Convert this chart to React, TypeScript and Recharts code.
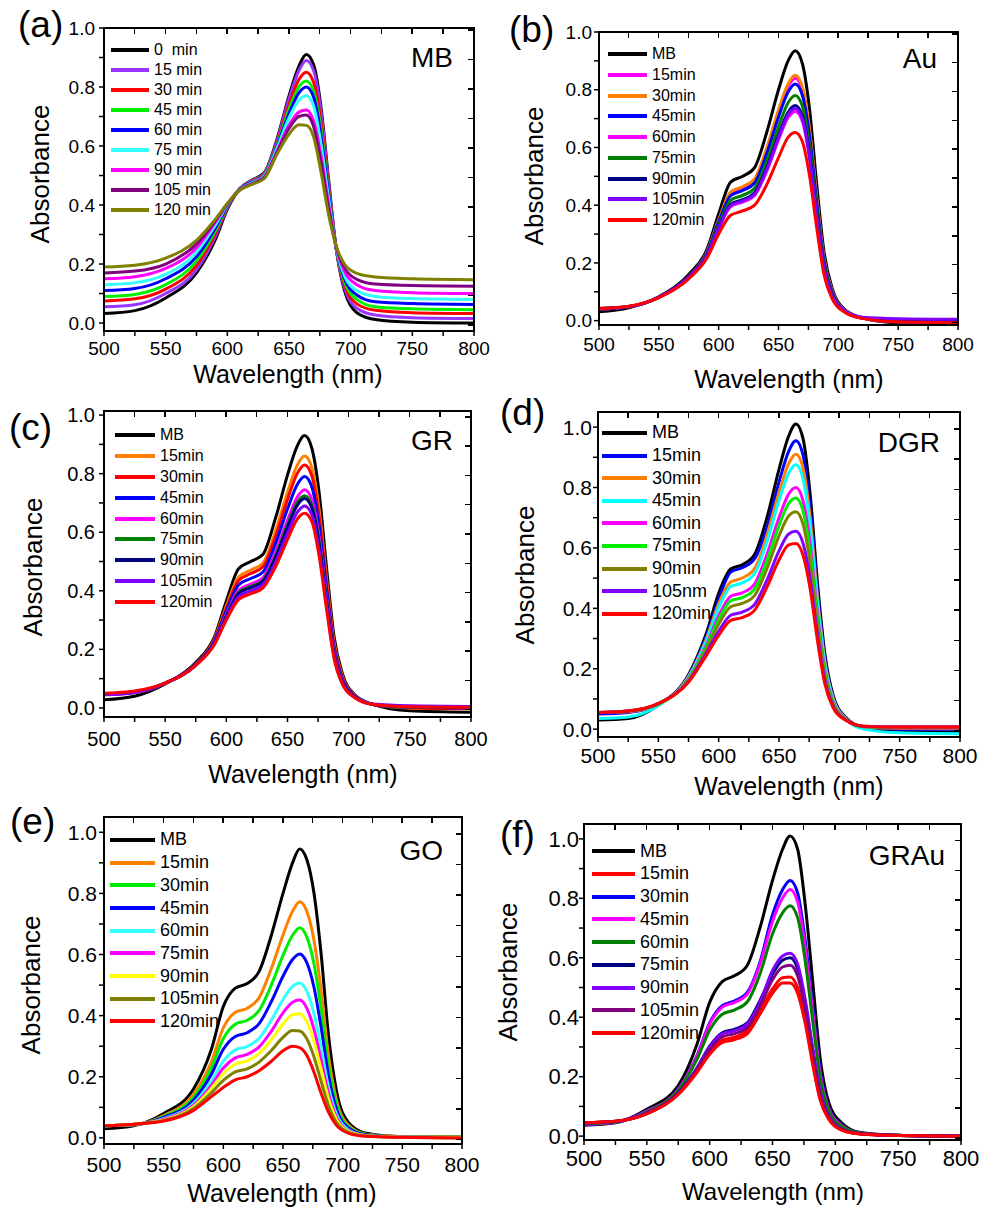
import React from "react";
import { LineChart, Line, XAxis, YAxis, Legend, ReferenceArea } from "recharts";

const FONT = '"Liberation Sans", Arial, Helvetica, sans-serif';

// sampled wavelengths (nm) shared by every spectrum
const wavelengths = [500, 525, 550, 575, 590, 600, 610, 620, 630, 640, 650, 658, 664, 670, 676, 682, 688, 695, 705, 720, 750, 800];
const xTicks = [500, 525, 550, 575, 600, 625, 650, 675, 700, 725, 750, 775, 800];
const yTicks = [0, 0.1, 0.2, 0.3, 0.4, 0.5, 0.6, 0.7, 0.8, 0.9, 1.0];

// (a) MB
const aLabels = ["0  min", "15 min", "30 min", "45 min", "60 min", "75 min", "90 min", "105 min", "120 min"];
const aColors = ["#000000", "#9933ff", "#ff0000", "#00ee00", "#0000ff", "#33ffff", "#ff00ff", "#800080", "#808000"];
const aCurves = [
  [.032, .042, .085, .17, .28, .385, .455, .485, .51, .62, .77, .87, .91, .875, .73, .49, .26, .11, .035, .012, .003, .0],
  [.055, .062, .10, .18, .29, .39, .455, .483, .508, .615, .76, .855, .89, .855, .715, .48, .26, .12, .05, .027, .018, .015],
  [.075, .082, .115, .195, .30, .392, .455, .48, .505, .605, .74, .825, .85, .815, .68, .465, .26, .13, .065, .043, .035, .032],
  [.09, .097, .13, .21, .31, .395, .455, .478, .503, .60, .725, .80, .82, .785, .655, .45, .26, .14, .08, .055, .048, .045],
  [.11, .117, .15, .225, .32, .397, .454, .477, .50, .595, .71, .78, .80, .765, .635, .44, .262, .15, .095, .072, .066, .063],
  [.13, .137, .165, .24, .33, .40, .453, .475, .498, .59, .695, .755, .77, .735, .605, .425, .262, .16, .11, .09, .083, .08],
  [.15, .157, .185, .255, .34, .402, .452, .473, .495, .58, .67, .715, .722, .685, .565, .405, .263, .175, .13, .11, .103, .10],
  [.17, .176, .20, .268, .345, .404, .451, .472, .493, .575, .66, .70, .705, .665, .545, .39, .264, .187, .148, .132, .127, .125],
  [.19, .196, .22, .28, .35, .405, .45, .47, .49, .57, .64, .672, .67, .63, .51, .37, .265, .20, .168, .156, .15, .147],
];

// (b) Au
const bLabels = ["MB", "15min", "30min", "45min", "60min", "75min", "90min", "105min", "120min"];
const bColors = ["#000000", "#ff00ff", "#ff8000", "#0000ff", "#ff00ff", "#008000", "#000080", "#8000ff", "#ff0000"];
const bCurves = [
  [.031, .045, .083, .16, .245, .37, .48, .50, .53, .65, .80, .90, .935, .89, .73, .47, .24, .11, .04, .01, -.008, -.012],
  [.04, .048, .082, .152, .235, .346, .441, .46, .486, .59, .721, .811, .84, .799, .653, .42, .213, .098, .037, .009, -.004, -.006],
  [.04, .048, .082, .152, .236, .349, .446, .464, .491, .596, .73, .82, .85, .809, .661, .425, .216, .10, .037, .009, -.004, -.006],
  [.04, .048, .082, .152, .233, .342, .433, .451, .477, .577, .705, .792, .82, .78, .637, .409, .208, .096, .036, .009, -.003, -.005],
  [.042, .049, .081, .15, .223, .318, .395, .411, .434, .516, .626, .703, .725, .69, .559, .359, .181, .084, .033, .009, -.002, -.004],
  [.042, .049, .081, .15, .229, .332, .417, .434, .459, .551, .671, .755, .78, .742, .604, .388, .196, .091, .035, .009, -.002, -.004],
  [.042, .049, .081, .15, .225, .323, .403, .419, .443, .529, .642, .722, .745, .709, .576, .369, .186, .087, .033, .009, .0, -.002],
  [.042, .049, .081, .15, .224, .321, .399, .415, .438, .523, .634, .713, .735, .699, .567, .364, .183, .085, .035, .012, .007, .005],
  [.042, .05, .08, .145, .215, .30, .365, .38, .40, .47, .565, .635, .652, .62, .50, .32, .16, .075, .03, .008, -.004, -.007],
];

// (c) GR
const cLabels = ["MB", "15min", "30min", "45min", "60min", "75min", "90min", "105min", "120min"];
const cColors = ["#000000", "#ff8000", "#ff0000", "#0000ff", "#ff00ff", "#008000", "#000080", "#8000ff", "#ff0000"];
const cCurves = [
  [.028, .04, .082, .155, .24, .365, .475, .50, .525, .645, .795, .895, .93, .885, .73, .475, .245, .115, .045, .012, -.01, -.015],
  [.045, .052, .084, .15, .233, .348, .447, .471, .495, .601, .737, .829, .86, .819, .673, .438, .225, .106, .042, .012, .0, -.003],
  [.048, .054, .085, .149, .231, .34, .435, .459, .482, .583, .712, .801, .83, .791, .649, .422, .217, .102, .041, .012, .001, -.002],
  [.046, .053, .084, .148, .227, .331, .42, .442, .464, .558, .679, .763, .79, .753, .616, .401, .205, .097, .04, .012, .002, .0],
  [.048, .055, .085, .147, .223, .32, .402, .423, .445, .53, .641, .72, .745, .71, .58, .377, .193, .091, .038, .012, .003, .001],
  [.048, .055, .085, .147, .221, .315, .394, .415, .436, .517, .625, .702, .725, .692, .564, .367, .187, .088, .037, .012, .003, .002],
  [.048, .055, .085, .146, .22, .312, .39, .411, .432, .511, .617, .692, .715, .682, .556, .361, .184, .087, .037, .012, .004, .002],
  [.045, .053, .085, .146, .217, .306, .38, .40, .421, .495, .596, .668, .69, .658, .535, .348, .177, .083, .036, .013, .007, .005],
  [.05, .058, .085, .145, .215, .30, .37, .39, .41, .48, .575, .645, .665, .635, .515, .335, .17, .08, .035, .012, .004, .002],
];

// (d) DGR
const dLabels = ["MB", "15min", "30min", "45min", "60min", "75min", "90min", "105nm", "120min"];
const dColors = ["#000000", "#0000ff", "#ff8000", "#00ffff", "#ff00ff", "#00ee00", "#808000", "#8000ff", "#ff0000"];
const dCurves = [
  [.03, .035, .08, .18, .32, .45, .53, .545, .58, .70, .86, .97, 1.01, .96, .77, .48, .25, .11, .04, .005, -.008, -.01],
  [.05, .055, .082, .177, .31, .43, .52, .535, .565, .668, .818, .92, .955, .906, .727, .454, .236, .104, .039, .006, .0, .0],
  [.055, .058, .083, .174, .301, .415, .487, .501, .533, .642, .784, .879, .91, .863, .692, .432, .225, .10, .037, .006, .003, .003],
  [.035, .04, .078, .171, .294, .402, .472, .485, .517, .621, .757, .847, .875, .828, .664, .415, .216, .096, .035, .0, -.012, -.015],
  [.055, .06, .083, .167, .28, .375, .44, .452, .482, .578, .70, .778, .80, .755, .605, .379, .197, .089, .035, .008, .005, .005],
  [.055, .06, .083, .165, .274, .363, .425, .436, .465, .557, .674, .747, .765, .721, .578, .362, .188, .085, .034, .008, .006, .006],
  [.055, .06, .084, .162, .265, .347, .405, .417, .444, .531, .64, .706, .72, .677, .542, .341, .177, .081, .033, .009, .006, .006],
  [.055, .06, .085, .158, .253, .324, .377, .388, .414, .493, .59, .646, .655, .614, .491, .309, .16, .074, .031, .01, .008, .008],
  [.055, .06, .085, .155, .245, .31, .36, .37, .395, .47, .56, .61, .615, .575, .46, .29, .15, .07, .03, .01, .007, .007],
];

// (e) GO
const eLabels = ["MB", "15min", "30min", "45min", "60min", "75min", "90min", "105min", "120min"];
const eColors = ["#000000", "#ff8000", "#00ee00", "#0000ff", "#33ffff", "#ff00ff", "#ffff00", "#808000", "#ff0000"];
const eCurves = [
  [.03, .04, .08, .16, .29, .43, .49, .505, .545, .66, .80, .90, .945, .91, .80, .60, .34, .15, .05, .015, .004, .003],
  [.04, .042, .073, .142, .249, .36, .411, .424, .459, .552, .664, .742, .773, .741, .646, .48, .273, .121, .041, .012, .004, .002],
  [.04, .043, .07, .132, .229, .325, .372, .385, .417, .498, .597, .663, .688, .657, .569, .42, .239, .107, .036, .011, .003, .002],
  [.04, .043, .067, .123, .208, .29, .332, .344, .374, .444, .529, .584, .602, .573, .492, .36, .206, .092, .032, .01, .003, .001],
  [.04, .044, .063, .113, .186, .251, .288, .299, .326, .384, .453, .496, .507, .479, .406, .293, .168, .076, .026, .008, .003, .001],
  [.04, .044, .061, .107, .172, .229, .262, .273, .298, .348, .409, .444, .451, .424, .355, .254, .146, .066, .023, .007, .002, .001],
  [.04, .045, .059, .102, .162, .21, .241, .252, .276, .32, .373, .403, .406, .379, .315, .223, .129, .059, .021, .007, .002, .001],
  [.04, .045, .057, .096, .148, .188, .216, .226, .248, .285, .329, .351, .35, .324, .265, .184, .107, .049, .018, .006, .002, .0],
  [.04, .045, .055, .09, .135, .165, .19, .20, .22, .25, .285, .30, .295, .27, .215, .145, .085, .04, .015, .005, .002, .0],
];

// (f) GRAu
const fLabels = ["MB", "15min", "30min", "45min", "60min", "75min", "90min", "105min", "120min"];
const fColors = ["#000000", "#ff0000", "#0000ff", "#ff00ff", "#008000", "#000080", "#8000ff", "#800080", "#ff0000"];
const fCurves = [
  [.037, .045, .09, .17, .31, .45, .52, .54, .575, .70, .86, .965, 1.01, .965, .78, .52, .26, .11, .045, .012, .003, .0],
  [.045, .05, .076, .141, .219, .282, .323, .333, .354, .422, .495, .533, .535, .499, .396, .251, .126, .057, .021, .007, .002, .0],
  [.04, .047, .084, .158, .272, .381, .439, .455, .484, .585, .745, .829, .86, .818, .659, .435, .218, .093, .037, .01, .003, .0],
  [.04, .047, .084, .157, .27, .377, .434, .45, .478, .578, .722, .801, .83, .788, .634, .418, .209, .09, .036, .01, .003, .0],
  [.042, .047, .082, .154, .259, .356, .41, .425, .452, .545, .68, .751, .775, .735, .59, .387, .194, .084, .033, .01, .003, .0],
  [.044, .049, .078, .145, .23, .303, .348, .36, .381, .456, .545, .592, .60, .563, .449, .288, .144, .064, .024, .008, .002, .0],
  [.044, .049, .078, .144, .228, .30, .344, .355, .377, .45, .557, .606, .615, .578, .461, .297, .148, .066, .025, .008, .002, .0],
  [.045, .05, .076, .143, .224, .291, .334, .345, .366, .437, .526, .569, .575, .539, .428, .274, .137, .062, .023, .008, .002, .0],
  [.045, .05, .075, .14, .215, .275, .315, .325, .345, .41, .48, .515, .515, .48, .38, .24, .12, .055, .02, .007, .002, .0],
];

const panels = [
  { tag: "(a)", name: "MB", labels: aLabels, colors: aColors, curves: aCurves,
    fl: 104, ft: 28, fr: 474, fb: 331, yDomain: [-0.027, 1.0], tickFs: 19, yMargin: 4, xMargin: 6,
    lx: 111, lw: 38, ly: 50, rowH: 20, legFs: 16,
    tagX: 18, tagY: 37, nameX: 453, nameY: 67, xtX: 288, xtY: 383, xtFs: 25, ytX: 40, ytY: 174 },
  { tag: "(b)", name: "Au", labels: bLabels, colors: bColors, curves: bCurves,
    fl: 599, ft: 32, fr: 958, fb: 325, yDomain: [-0.015, 1.0], tickFs: 19, yMargin: 2, xMargin: 8,
    lx: 608, lw: 39, ly: 54, rowH: 20.75, legFs: 16,
    tagX: 509, tagY: 42, nameX: 937, nameY: 68, xtX: 789, xtY: 388, xtFs: 25, ytX: 534, ytY: 176 },
  { tag: "(c)", name: "GR", labels: cLabels, colors: cColors, curves: cCurves,
    fl: 104, ft: 411, fr: 471, fb: 717, yDomain: [-0.031, 1.014], tickFs: 20, yMargin: 4, xMargin: 10,
    lx: 115, lw: 40, ly: 435, rowH: 20.9, legFs: 16,
    tagX: 9, tagY: 440, nameX: 453, nameY: 450, xtX: 303, xtY: 783, xtFs: 25, ytX: 33, ytY: 567 },
  { tag: "(d)", name: "DGR", labels: dLabels, colors: dColors, curves: dCurves,
    fl: 598, ft: 412, fr: 960, fb: 737, yDomain: [-0.026, 1.05], tickFs: 21, yMargin: 1, xMargin: 6,
    lx: 602, lw: 45, ly: 433, rowH: 22.6, legFs: 18,
    tagX: 500, tagY: 425, nameX: 940, nameY: 452, xtX: 789, xtY: 795, xtFs: 25, ytX: 525, ytY: 575 },
  { tag: "(e)", name: "GO", labels: eLabels, colors: eColors, curves: eCurves,
    fl: 104, ft: 817, fr: 462, fb: 1144, yDomain: [-0.02, 1.05], tickFs: 21, yMargin: 2, xMargin: 8,
    lx: 110, lw: 45, ly: 840, rowH: 22.7, legFs: 18,
    tagX: 10, tagY: 834, nameX: 443, nameY: 860, xtX: 282, xtY: 1202, xtFs: 25, ytX: 31, ytY: 985 },
  { tag: "(f)", name: "GRAu", labels: fLabels, colors: fColors, curves: fCurves,
    fl: 584, ft: 824, fr: 961, fb: 1140, yDomain: [-0.013, 1.05], tickFs: 22, yMargin: 0, xMargin: 5,
    lx: 592, lw: 43, ly: 851, rowH: 22.75, legFs: 18,
    tagX: 500, tagY: 847, nameX: 945, nameY: 865, xtX: 773, xtY: 1200, xtFs: 24, ytX: 508, ytY: 972 },
];

type PanelCfg = (typeof panels)[number];

const xFmt = (v: number) => (v % 50 === 0 ? String(v) : "");
const yFmt = (v: number) => (Math.round(v * 10) % 2 === 0 ? v.toFixed(1) : "");

function LegendBox({ p }: { p: PanelCfg }) {
  return (
    <div style={{ fontFamily: FONT, fontSize: p.legFs, color: "#000" }}>
      {p.labels.map((l, i) => (
        <div key={i} style={{ display: "flex", alignItems: "center", height: p.rowH, whiteSpace: "pre" }}>
          <span style={{ display: "inline-block", width: p.lw, height: 4, background: p.colors[i], marginRight: 5 }} />
          <span>{l}</span>
        </div>
      ))}
    </div>
  );
}

// top and right edges of the box frame (CSS borders), with inward ticks at the axis tick values
function FrameEdges({ p }: { p: PanelCfg }) {
  const w = p.fr - p.fl;
  const h = p.fb - p.ft;
  const [y0, y1] = p.yDomain;
  return (
    <div style={{ position: "absolute", left: 59, top: 9, width: w + 2, height: h + 2, boxSizing: "border-box",
      borderTop: "2px solid #000", borderRight: "2px solid #000", pointerEvents: "none", zIndex: 5 }}>
      {xTicks.map((t) => (
        <div key={"x" + t} style={{ position: "absolute", left: ((t - 500) / 300) * w, top: 0,
          width: 1.5, height: 5, background: "#000" }} />
      ))}
      {yTicks.map((t) => (
        <div key={"y" + t} style={{ position: "absolute", right: 0, top: ((y1 - t) / (y1 - y0)) * h,
          width: 5, height: 1.5, background: "#000" }} />
      ))}
    </div>
  );
}

function Panel({ p }: { p: PanelCfg }) {
  const left = p.fl - 60;
  const top = p.ft - 10;
  const W = p.fr - p.fl + 60 + 30;
  const H = p.fb - p.ft + 70;
  const [y0, y1] = p.yDomain;
  const data = wavelengths.map((wl, i) => {
    const row: Record<string, number> = { wl };
    p.curves.forEach((c, j) => (row["s" + j] = c[i]));
    return row;
  });
  const tickStyle = { fill: "#000", fontSize: p.tickFs, fontFamily: FONT };
  const line = { stroke: "#000", strokeWidth: 2 };
  const tl = { stroke: "#000", strokeWidth: 1.5 };
  return (
    <div style={{ position: "absolute", left, top, width: W, height: H }}>
      <LineChart width={W} height={H} data={data} margin={{ top: 10, right: 30, left: 0, bottom: 0 }}>
        <XAxis dataKey="wl" type="number" domain={[500, 800]} ticks={xTicks} allowDataOverflow
          tickFormatter={xFmt} tick={tickStyle} tickSize={5} tickMargin={p.xMargin} height={60}
          axisLine={line} tickLine={tl} interval={0} />
        <YAxis type="number" domain={p.yDomain} ticks={yTicks} allowDataOverflow tickFormatter={yFmt}
          tick={tickStyle} tickSize={5} tickMargin={p.yMargin} width={60} axisLine={line} tickLine={tl} interval={0} />
        {/* whole plot box as a reference area with only a stroke */}
        <ReferenceArea x1={500} x2={800} y1={y0} y2={y1} fill="none" fillOpacity={0}
          stroke="#000" strokeWidth={2} ifOverflow="visible" />
        <Legend layout="vertical" align="center" verticalAlign="middle"
          wrapperStyle={{ left: p.lx - left, top: p.ly - p.rowH / 2 - top, width: "auto", height: "auto" }}
          content={() => <LegendBox p={p} />} />
        {p.curves.map((_, j) => (
          <Line key={j} dataKey={"s" + j} name={p.labels[j]} type="monotone" stroke={p.colors[j]}
            strokeWidth={3} dot={false} isAnimationActive={false} />
        ))}
      </LineChart>
      <FrameEdges p={p} />
    </div>
  );
}

export default function App() {
  return (
    <div style={{ position: "absolute", left: 0, top: 0, width: 984, height: 1215, background: "#fff" }}>
      {panels.map((p) => (
        <Panel key={p.tag} p={p} />
      ))}
      <svg width={984} height={1215} style={{ position: "absolute", left: 0, top: 0, pointerEvents: "none" }}
        fontFamily={FONT} fill="#000">
        {panels.map((p) => (
          <g key={p.tag}>
            <text x={p.tagX} y={p.tagY} fontSize={37}>{p.tag}</text>
            <text x={p.nameX} y={p.nameY} fontSize={28} textAnchor="end">{p.name}</text>
            <text x={p.xtX} y={p.xtY} fontSize={p.xtFs} textAnchor="middle">Wavelength (nm)</text>
            <text transform={`translate(${p.ytX},${p.ytY}) rotate(-90)`} fontSize={26} textAnchor="middle"
              dominantBaseline="central">Absorbance</text>
          </g>
        ))}
      </svg>
    </div>
  );
}
